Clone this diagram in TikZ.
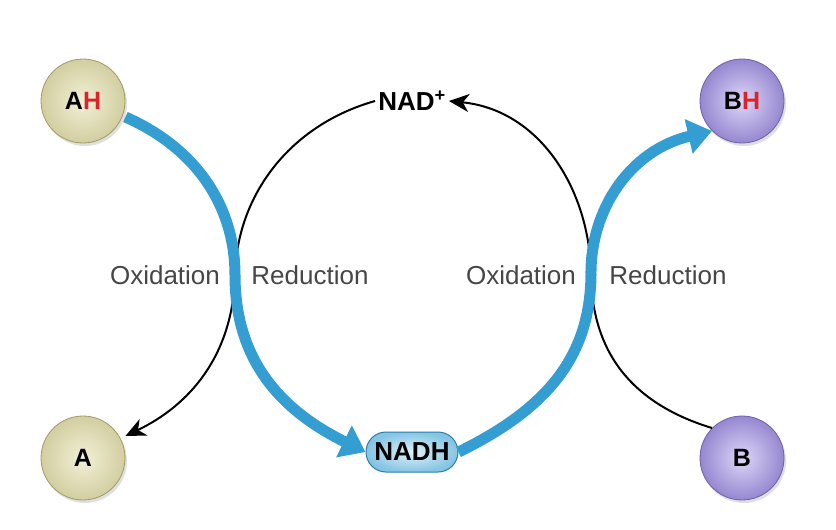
\documentclass[tikz,border=0pt]{standalone}
\usepackage{fontspec}
\setmainfont{Liberation Sans}
\usetikzlibrary{arrows.meta,shapes.misc,shadows}
\definecolor{blu}{RGB}{52,158,210}
\definecolor{khin}{RGB}{242,240,215}
\definecolor{khout}{RGB}{210,206,160}
\definecolor{khb}{RGB}{160,155,100}
\definecolor{puin}{RGB}{222,214,248}
\definecolor{puout}{RGB}{150,135,208}
\definecolor{pub}{RGB}{110,95,170}
\definecolor{hred}{RGB}{220,35,40}
\definecolor{lbl}{RGB}{70,70,70}
\begin{document}
\begin{tikzpicture}[x=1pt,y=-1pt,
  mol/.style={circle,minimum size=84pt,inner sep=0pt,draw=#1b,line width=0.8pt,
    inner color=#1in,outer color=#1out,font=\fontsize{25}{28}\selectfont\bfseries,
    drop shadow={shadow xshift=2pt,shadow yshift=-3pt,opacity=0.25}},
  lab/.style={font=\fontsize{26}{28}\selectfont,text=lbl},
  big/.style={line width=11pt,draw=blu,-{Triangle[length=24pt,width=34pt]}},
  thin/.style={line width=2pt,-{Stealth[length=20pt,width=18pt,inset=6pt]}}]
\useasboundingbox (0,0) rectangle (836,530);
\fill[white] (0,0) rectangle (836,530);
\node[mol=kh] (AH) at (83,101) {A\textcolor{hred}{H}};
\node[mol=kh] (A) at (83,458) {A};
\node[mol=pu] (BH) at (742,101) {B\textcolor{hred}{H}};
\node[mol=pu] (B) at (742,458) {B};
\node[font=\fontsize{26}{28}\selectfont\bfseries,inner sep=3pt] (NAD) at (412,101) {NAD\textsuperscript{+}};
\node[rounded rectangle,draw=blu!80!black,line width=1pt,inner color=blu!15,outer color=blu!60,
  minimum width=104pt,minimum height=40pt,inner xsep=6pt,font=\fontsize{26}{28}\selectfont\bfseries] (NADH) at (412,452) {NADH};
\coordinate (c1) at (235,275);
\coordinate (c2) at (591,275);
\draw[thin] (NAD.west) .. controls (290,125) and (237,195) .. (c1) .. controls (233,355) and (190,405) .. (A.east|-0,436);
\draw[thin] (B.north west) .. controls (620,400) and (592,340) .. (c2) .. controls (590,190) and (540,110) .. (NAD.east);
\draw[big] (AH.east|-0,117) .. controls (200,150) and (235,210) .. (c1) .. controls (235,350) and (270,405) .. (NADH.west);
\draw[big] (NADH.east) .. controls (555,405) and (590,350) .. (c2) .. controls (590,210) and (630,150) .. (BH.south west);
\node[lab] (o1) at (165,275) {Oxidation};
\node[lab] (r1) at (310,275) {Reduction};
\node[lab] (o2) at (521,275) {Oxidation};
\node[lab] (r2) at (668,275) {Reduction};
\end{tikzpicture}
\end{document}
